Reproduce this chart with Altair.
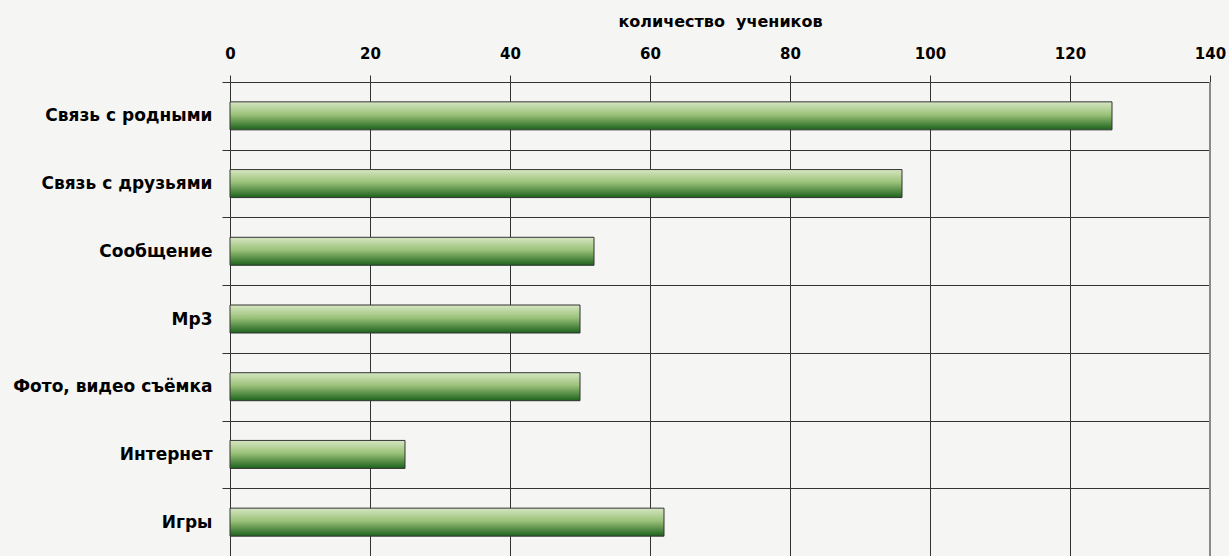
import altair as alt
import pandas as pd

categories = ["Связь с родными", "Связь с друзьями", "Сообщение", "Mp3",
              "Фото, видео съёмка", "Интернет", "Игры"]
values = [126, 96, 52, 50, 50, 25, 62]
x_ticks = [0, 20, 40, 60, 80, 100, 120, 140]

df = pd.DataFrame({"cat": categories, "val": values})

FONT = "DejaVu Sans"

grad = alt.Gradient(
    gradient="linear", x1=0, x2=0, y1=0, y2=1,
    stops=[alt.GradientStop(color="#d6e6c2", offset=0),
           alt.GradientStop(color="#9cc27a", offset=0.45),
           alt.GradientStop(color="#1c621c", offset=1)],
)

x_enc = alt.X("val:Q", scale=alt.Scale(domain=[0, 140], nice=False),
              axis=alt.Axis(orient="top", values=x_ticks, title="количество\u00a0 учеников",
                            grid=True, gridColor="#333", gridWidth=1,
                            tickSize=7, tickColor="#333", domainColor="#333",
                            labelFlush=False,
                            labelPadding=14, labelFont=FONT, labelFontSize=15,
                            labelFontWeight="bold", labelColor="#000",
                            titleFont=FONT, titleFontSize=16, titleFontWeight="bold",
                            titleColor="#000", titlePadding=17))

bars = alt.Chart(df).mark_bar(size=28, fill=grad, stroke="#333", strokeWidth=1).encode(
    x=x_enc,
    y=alt.Y("cat:N", sort=categories,
            scale=alt.Scale(paddingInner=0, paddingOuter=0),
            axis=alt.Axis(title=None, tickBand="extent", grid=True, gridColor="#333",
                          gridWidth=1, tickSize=8, tickColor="#333", domainColor="#333",
                          labelPadding=10, labelFont=FONT, labelFontSize=17, labelLimit=0,
                          labelFontWeight="bold", labelColor="#000")),
)

edge = alt.Chart(pd.DataFrame({"v": [140]})).mark_rule(color="#8a8a8a", strokeWidth=2).encode(
    x=alt.X("v:Q", scale=alt.Scale(domain=[0, 140], nice=False))
)

chart = alt.layer(bars, edge).properties(
    width=980, height=474,
    autosize=alt.AutoSizeParams(type="none"),
    padding={"left": 230, "top": 82, "right": 19, "bottom": 0},
    background="#f5f5f4",
).configure_view(stroke=None)

chart.save("out.html", embed_options={"renderer": "svg", "actions": False})
